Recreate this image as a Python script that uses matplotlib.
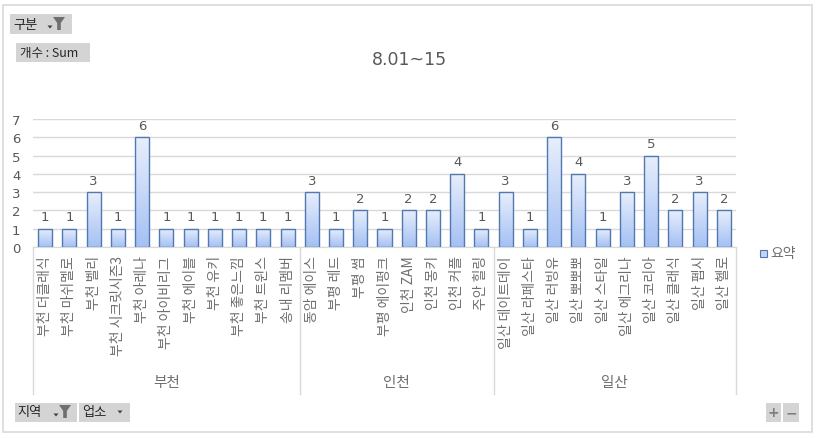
import matplotlib
matplotlib.use("Agg")
import matplotlib.pyplot as plt
import matplotlib.transforms as mtransforms
from matplotlib.patches import Rectangle, Polygon
from matplotlib.colors import LinearSegmentedColormap
import numpy as np

plt.rcParams['font.family'] = ['Noto Sans CJK KR', 'DejaVu Sans']

title = "8.01~15"
groups = ["부천", "인천", "일산"]
labels_bucheon = ["부천 더클래식", "부천 마쉬멜로", "부천 벨리", "부천 시크릿시즌3", "부천 아레나",
                  "부천 아이비리그", "부천 에이블", "부천 유키", "부천 좋은느낌", "부천 트윈스", "송내 리멤버"]
values_bucheon = [1, 1, 3, 1, 6, 1, 1, 1, 1, 1, 1]
labels_incheon = ["동암 에이스", "부평 레드", "부평 썸", "부평 에이펑크", "인천 ZAM", "인천 몽키",
                  "인천 커플", "주안 힐링"]
values_incheon = [3, 1, 2, 1, 2, 2, 4, 1]
labels_ilsan = ["일산 데이트데이", "일산 라페스타", "일산 러빙유", "일산 뽀뽀뽀", "일산 스타일",
                "일산 에그리나", "일산 코리아", "일산 클래식", "일산 펩시", "일산 헬로"]
values_ilsan = [3, 1, 6, 4, 1, 3, 5, 2, 3, 2]
yticks = [0, 1, 2, 3, 4, 5, 6, 7]
legend_label = "요약"

all_labels = labels_bucheon + labels_incheon + labels_ilsan
all_values = values_bucheon + values_incheon + values_ilsan
group_sizes = [len(labels_bucheon), len(labels_incheon), len(labels_ilsan)]

GRAY = "#595959"
LGRAY = "#6f6f6f"
GRID = "#d9d9d9"

W, H = 819, 439
fig = plt.figure(figsize=(W / 100, H / 100), dpi=100)

def fx(px):
    return px / W

def fy(py):
    return 1 - py / H

# outer border
fig.patches.append(Rectangle((fx(3), fy(433)), fx(812) - fx(3), fy(6) - fy(433),
                             transform=fig.transFigure, fill=False, edgecolor=GRID, lw=1.2))

ax = fig.add_axes([fx(33), fy(248), fx(736) - fx(33), fy(120) - fy(248)])
x = np.arange(len(all_values))
bars = ax.bar(x, all_values, width=0.58, color="none", edgecolor="#5278b0", lw=1.0, zorder=3)

grad = np.linspace(0, 1, 256).reshape(-1, 1)
cmap = LinearSegmentedColormap.from_list("g", ["#a4c0f4", "#e8effc"])
for b in bars:
    bx, by, bw, bh = b.get_x(), b.get_y(), b.get_width(), b.get_height()
    im = ax.imshow(grad, extent=(bx, bx + bw, by, by + bh), origin="lower", cmap=cmap,
                   aspect="auto", zorder=2)
    im.set_clip_path(b)
    ax.text(bx + bw / 2, by + bh + 0.3, f"{int(bh)}", ha="center", va="bottom",
            fontsize=9.5, color=GRAY, family=['DejaVu Sans'])

ax.set_xlim(-0.5, len(all_values) - 0.5)
ax.set_ylim(0, 7)
ax.set_yticks(yticks)
ax.yaxis.grid(True, color=GRID, lw=1)
ax.set_axisbelow(True)
for s in ["top", "right", "left"]:
    ax.spines[s].set_visible(False)
ax.spines["bottom"].set_color(GRID)
ax.tick_params(axis="y", length=0, pad=9, labelsize=9.5, labelcolor=GRAY)
ax.set_xticks(x)
ax.set_xticklabels(all_labels, rotation=90, fontsize=10, color=LGRAY)
ax.tick_params(axis="x", length=0, pad=6)
for t in ax.get_yticklabels():
    t.set_family(['DejaVu Sans'])

# group separators and group labels
trans = mtransforms.blended_transform_factory(ax.transData, ax.transAxes)
ybot = (248 - 395) / 128
bounds = [-0.5]
for g in group_sizes:
    bounds.append(bounds[-1] + g)
for b in bounds:
    ax.plot([b, b], [0, ybot], transform=trans, color=GRID, lw=1, clip_on=False)
ylab = (248 - 383) / 128
for i, g in enumerate(groups):
    ax.text((bounds[i] + bounds[i + 1]) / 2, ylab, g, transform=trans, ha="center", va="center",
            fontsize=10.5, color=LGRAY)

# title
fig.text(fx(409), fy(60), title, ha="center", va="center", fontsize=12.5, color=GRAY,
         family=['DejaVu Sans'])

# legend
fig.patches.append(Rectangle((fx(760), fy(258)), fx(7), 7 / H, transform=fig.transFigure,
                             facecolor="#c3d5f7", edgecolor="#5278b0", lw=0.8))
fig.text(fx(770), fy(254), legend_label, ha="left", va="center", fontsize=10, color=LGRAY)

# field buttons
def button(x0, y0, x1, y1):
    fig.patches.append(Rectangle((fx(x0), fy(y1)), fx(x1) - fx(x0), fy(y0) - fy(y1),
                                 transform=fig.transFigure, facecolor="#d4d4d4", edgecolor="none"))

def funnel(cx, cy):
    pts = [(cx - 6, cy - 6), (cx + 6, cy - 6), (cx + 1.8, cy), (cx + 1.8, cy + 7), (cx - 1.8, cy + 7),
           (cx - 1.8, cy)]
    fig.patches.append(Polygon([(fx(a), fy(b)) for a, b in pts], closed=True,
                               transform=fig.transFigure, facecolor="#6f6f6f", edgecolor="none"))

def arrow(cx, cy):
    pts = [(cx - 2.5, cy - 1.5), (cx + 2.5, cy - 1.5), (cx, cy + 1.5)]
    fig.patches.append(Polygon([(fx(a), fy(b)) for a, b in pts], closed=True,
                               transform=fig.transFigure, facecolor="#404040", edgecolor="none"))

button(10, 15, 72, 35)
fig.text(fx(13), fy(25), "구분", ha="left", va="center", fontsize=9.5, color="#262626")
arrow(50, 28)
funnel(59, 24)

button(16, 44, 90, 63)
fig.text(fx(20), fy(53.5), "개수 : Sum", ha="left", va="center", fontsize=9, color="#262626")

button(15, 404, 77, 423)
fig.text(fx(17), fy(413), "지역", ha="left", va="center", fontsize=9.5, color="#262626")
arrow(56, 416)
funnel(65, 412)

button(79, 404, 130, 423)
fig.text(fx(82), fy(413), "업소", ha="left", va="center", fontsize=9.5, color="#262626")
arrow(120, 413)

button(766, 404, 781, 423)
button(783, 404, 799, 423)
fig.text(fx(773.5), fy(413), "+", ha="center", va="center", fontsize=10, color="#7f7f7f",
         family=['DejaVu Sans'], fontweight="bold")
fig.text(fx(791), fy(413), "−", ha="center", va="center", fontsize=10, color="#7f7f7f",
         family=['DejaVu Sans'], fontweight="bold")

fig.savefig("out.png", dpi=100)
